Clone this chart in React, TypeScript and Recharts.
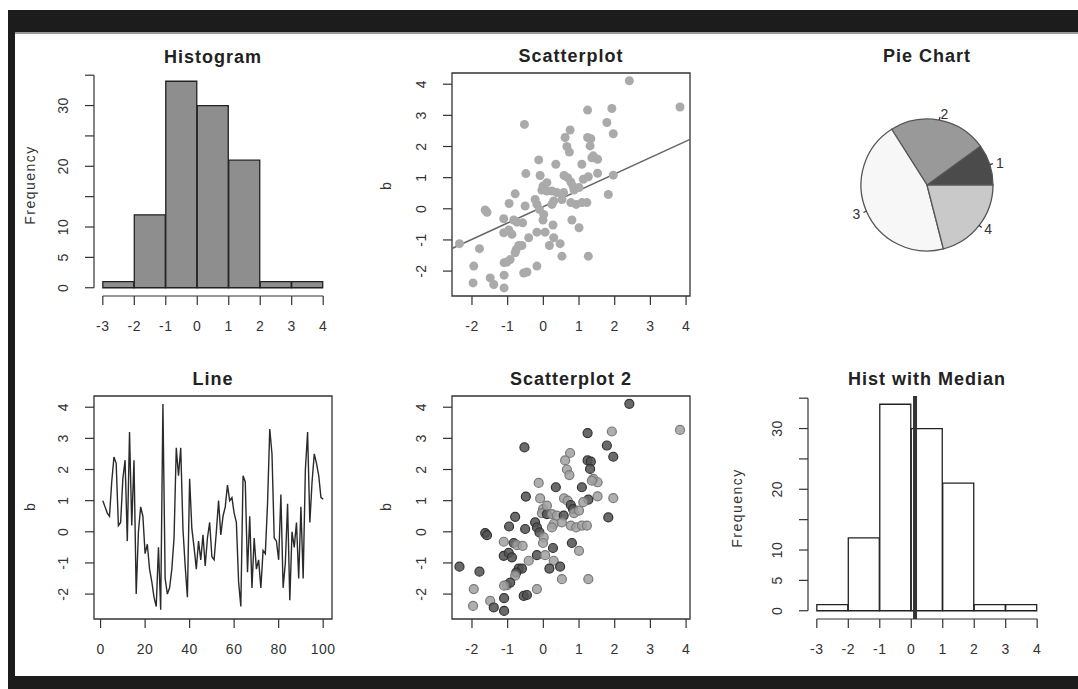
import React from "react";
import {
  ComposedChart,
  Bar,
  XAxis,
  YAxis,
  ReferenceLine,
  ReferenceArea,
  ScatterChart,
  Scatter,
  Cell,
  LineChart,
  Line,
  PieChart,
  Pie,
} from "recharts";

// ---- data ----
const histBreaks = [-3, -2, -1, 0, 1, 2, 3, 4];
const histCounts = [1, 12, 34, 30, 21, 1, 1];
const histYTicks = [0, 5, 10, 15, 20, 25, 30, 35];
const histYLabels = [0, 5, 10, 20, 30];
const medianA = 0.12;

const scatterX = [
  2.41, 3.83, 1.24, 1.92, -0.53, 1.78, 1.96, 0.75, 0.61, 0.66, 0.73, 1.24, 1.33, 1.31, 1.4, 1.52,
  1.36, -0.13, 0.35, 1.08, -0.49, -0.09, 0.58, 0.68, 1.52, 1.96, 1.26, 1.12, 0.77, 0.83, 0.86,
  -0.01, -0.04, 0.1, 0.24, 0.38, 0.57, -0.79, 1.82, -0.23, -0.18, -0.51, -0.96, -1.63, -1.58,
  0.29, 0.24, 0.77, 0.92, 1.08, 1.22, -0.11, 0.01, -0.01, 0.27, -1.11, -0.83, -0.74, -0.58, 0.8,
  1.0, -1.11, -0.97, -0.88, -0.18, 0.05, -0.41, 0.29, 0.47, 0.17, -0.69, -0.6, -0.76, -0.79,
  -1.02, -0.93, -1.1, 0.52, 1.26, -2.35, -1.79, -1.95, -0.55, -0.46, -0.18, -1.1, -1.49, -1.39,
  -1.97, -1.1, 0.52, 0.1, 1.0,
];
const scatterY = [
  4.11, 3.27, 3.17, 3.22, 2.71, 2.77, 2.41, 2.53, 2.29, 2.0, 1.82, 2.29, 2.25, 2.02, 1.7, 1.59,
  1.64, 1.57, 1.43, 1.43, 1.13, 1.07, 1.07, 1.0, 1.14, 1.08, 1.03, 0.95, 0.86, 0.73, 0.6, 0.73,
  0.6, 0.57, 0.57, 0.52, 0.52, 0.48, 0.46, 0.3, 0.14, 0.09, 0.17, -0.04, -0.11, 0.25, 0.14, 0.2,
  0.14, 0.2, 0.2, -0.02, -0.18, -0.36, -0.52, -0.32, -0.36, -0.43, -0.45, -0.36, -0.61, -0.77,
  -0.68, -0.82, -0.75, -0.75, -0.93, -0.93, -1.12, -1.18, -1.18, -1.18, -1.31, -1.41, -1.71,
  -1.63, -1.73, -1.52, -1.52, -1.12, -1.28, -1.84, -2.06, -2.03, -1.84, -2.13, -2.22, -2.43,
  -2.38, -2.54, 0.3, 0.84, 0.68,
];
// 1 = dark point, 0 = light point (Scatterplot 2)
const scatterGroup = [
  1, 0, 1, 0, 1, 1, 1, 0, 0, 0, 0, 1, 1, 1, 0, 0, 0, 0, 1, 1, 1, 0, 0, 0, 0, 0, 1, 0, 1, 1, 0, 0,
  0, 1, 0, 0, 1, 1, 1, 1, 1, 1, 1, 1, 1, 0, 0, 0, 0, 0, 0, 1, 0, 0, 1, 0, 1, 0, 0, 1, 0, 1, 1, 1,
  1, 0, 0, 0, 1, 1, 1, 1, 1, 0, 0, 1, 0, 0, 0, 1, 1, 0, 1, 1, 0, 1, 0, 1, 0, 1, 0, 0, 0,
];
const fitIntercept = 0.07;
const fitSlope = 0.525;

const lineB = [
  1.0, 0.8, 0.6, 0.5, 1.6, 2.4, 2.2, 0.2, 0.3, 1.7, 2.3, -0.3, 3.2, 0.2, 2.3, -2.0, 0.0, 0.8, 0.5,
  -0.7, -0.4, -1.2, -1.6, -2.1, -2.4, -0.5, -2.5, 4.1, -1.5, -2.0, -1.8, -1.2, -0.2, 2.7, 1.8, 2.7,
  0.1, -1.1, -2.1, 1.7, 0.1, -0.5, -1.2, -0.3, -0.9, -0.1, -1.1, -0.2, 0.3, -0.8, -0.9, 0.0, 1.0,
  -0.1, 0.5, 0.8, 1.5, 1.0, 1.1, 0.6, 0.3, -1.6, -2.4, 1.8, 1.6, -1.3, 0.5, -1.8, -0.2, -1.2, -0.9,
  -1.8, -0.6, -0.7, 0.9, 3.3, 2.5, -0.2, -0.3, -0.9, 1.2, -1.8, -1.0, 0.9, -2.2, 0.0, -0.5, 0.3,
  -1.5, 0.8, -1.5, 2.0, 3.2, 0.3, 1.6, 2.5, 2.2, 1.8, 1.1, 1.05,
];

const pieValues = [10, 24, 45, 21];
const pieLabels = ["1", "2", "3", "4"];
const pieColors = ["#4b4b4b", "#999999", "#f7f7f7", "#c9c9c9"];

const histTicksX = histBreaks;
const scatterTicks = [-2, -1, 0, 1, 2, 3, 4];
const lineTicksX = [0, 20, 40, 60, 80, 100];

// ---- layout ----
const FONT = '"Liberation Sans", Arial, Helvetica, sans-serif';
const INK = "#333";
const PW = 238;
const PH = 223;
const ML = 70;
const MT = 20;
const CW = ML + PW + 20;
const CH = MT + PH + 50;
const margin = { top: MT, right: 20, bottom: 10, left: 0 };

const histXDom: [number, number] = [-3.28, 4.28];
const histYDom: [number, number] = [-1.36, 35.36];
const sXDom: [number, number] = [-2.56, 4.11];
const sYDom: [number, number] = [-2.8, 4.36];
const lXDom: [number, number] = [-2.96, 103.96];

const histData = histCounts.map((c, i) => ({
  mid: (histBreaks[i] + histBreaks[i + 1]) / 2,
  count: c,
}));
const scatterData = scatterX.map((x, i) => ({ x, y: scatterY[i], g: scatterGroup[i] }));
const lineData = lineB.map((b, i) => ({ i: i + 1, b }));
const pieData = pieValues.map((v, i) => ({ name: pieLabels[i], value: v }));

const XTick = (p: any) => (
  <text x={p.x} y={p.y + 26} textAnchor="middle" fontSize={14} fontFamily={FONT} fill={INK} letterSpacing={0.5}>
    {p.payload.value}
  </text>
);

const YTick = (shown?: number[]) => (p: any) => {
  if (shown && !shown.includes(p.payload.value)) return <g />;
  return (
    <text
      transform={`translate(${p.x - 17},${p.y}) rotate(-90)`}
      textAnchor="middle"
      fontSize={14}
      fontFamily={FONT}
      fill={INK}
      letterSpacing={0.5}
    >
      {p.payload.value}
    </text>
  );
};

const axisCommon = {
  type: "number" as const,
  allowDataOverflow: true,
  axisLine: false,
  tickLine: { stroke: INK, strokeWidth: 1.2 },
  tickSize: 9,
  tickMargin: 0,
  interval: 0 as const,
};

function Panel({ left, top, children }: { left: number; top: number; children: React.ReactNode }) {
  return (
    <div style={{ position: "absolute", left: left - ML, top: top - MT, width: CW, height: CH }}>{children}</div>
  );
}

function Hist({ fill, median }: { fill: string; median?: number }) {
  return (
    <ComposedChart width={CW} height={CH} data={histData} margin={margin} barCategoryGap={0}>
      <XAxis {...axisCommon} dataKey="mid" domain={histXDom} ticks={histTicksX} height={40} tick={XTick} />
      <YAxis {...axisCommon} domain={histYDom} ticks={histYTicks} width={ML} tick={YTick(histYLabels)} />
      <Bar dataKey="count" fill={fill} stroke="#222" strokeWidth={1.3} isAnimationActive={false} />
      <ReferenceLine
        segment={[{ x: histBreaks[0], y: histYDom[0] }, { x: histBreaks[histBreaks.length - 1], y: histYDom[0] }]}
        stroke={INK}
        strokeWidth={1.2}
        ifOverflow="visible"
      />
      <ReferenceLine
        segment={[{ x: histXDom[0], y: histYTicks[0] }, { x: histXDom[0], y: histYTicks[histYTicks.length - 1] }]}
        stroke={INK}
        strokeWidth={1.2}
        ifOverflow="visible"
      />
      {median !== undefined && <ReferenceLine x={median} stroke="#333" strokeWidth={4} ifOverflow="visible" />}
    </ComposedChart>
  );
}

function Box() {
  return (
    <ReferenceArea
      x1={sXDom[0]}
      x2={sXDom[1]}
      y1={sYDom[0]}
      y2={sYDom[1]}
      fill="none"
      fillOpacity={0}
      stroke={INK}
      strokeWidth={1.3}
      ifOverflow="visible"
    />
  );
}

function ScatterPanel({ two }: { two?: boolean }) {
  return (
    <ScatterChart width={CW} height={CH} margin={margin}>
      <XAxis {...axisCommon} dataKey="x" domain={sXDom} ticks={scatterTicks} height={40} tick={XTick} />
      <YAxis {...axisCommon} dataKey="y" domain={sYDom} ticks={scatterTicks} width={ML} tick={YTick()} />
      <Box />
      <Scatter
        data={scatterData}
        isAnimationActive={false}
        shape={(p: any) => (
          <circle
            cx={p.cx}
            cy={p.cy}
            r={4.5}
            fill={p.fill}
            stroke={two ? (p.payload.g ? "#333" : "#7a7a7a") : "none"}
            strokeWidth={1.2}
            fillOpacity={two ? 0.85 : 1}
          />
        )}
      >
        {scatterData.map((d, i) => (
          <Cell key={i} fill={two ? (d.g ? "#505050" : "#a0a0a0") : "#aaaaaa"} />
        ))}
      </Scatter>
      {!two && (
        <ReferenceLine
          segment={[
            { x: sXDom[0], y: fitIntercept + fitSlope * sXDom[0] },
            { x: sXDom[1], y: fitIntercept + fitSlope * sXDom[1] },
          ]}
          stroke="#666"
          strokeWidth={1.5}
          ifOverflow="visible"
        />
      )}
    </ScatterChart>
  );
}

function LinePanel() {
  return (
    <LineChart width={CW} height={CH} data={lineData} margin={margin}>
      <XAxis {...axisCommon} dataKey="i" domain={lXDom} ticks={lineTicksX} height={40} tick={XTick} />
      <YAxis {...axisCommon} domain={sYDom} ticks={scatterTicks} width={ML} tick={YTick()} />
      <ReferenceArea
        x1={lXDom[0]}
        x2={lXDom[1]}
        y1={sYDom[0]}
        y2={sYDom[1]}
        fill="none"
        fillOpacity={0}
        stroke={INK}
        strokeWidth={1.3}
        ifOverflow="visible"
      />
      <Line dataKey="b" stroke="#2a2a2a" strokeWidth={1.4} dot={false} isAnimationActive={false} type="linear" />
    </LineChart>
  );
}

const renderPieLabel = (p: any) => {
  const rad = Math.PI / 180;
  const c = Math.cos(-p.midAngle * rad);
  const s = Math.sin(-p.midAngle * rad);
  const r = p.outerRadius;
  return (
    <g>
      <line x1={p.cx + r * c} y1={p.cy + r * s} x2={p.cx + r * 1.05 * c} y2={p.cy + r * 1.05 * s} stroke={INK} strokeWidth={1.2} />
      <text
        x={p.cx + r * 1.1 * c}
        y={p.cy + r * 1.1 * s + 5}
        textAnchor={c >= 0 ? "start" : "end"}
        fontSize={14}
        fontFamily={FONT}
        fill={INK}
      >
        {pieLabels[p.index]}
      </text>
    </g>
  );
};

const Title = ({ x, y, children }: { x: number; y: number; children: string }) => (
  <text x={x} y={y} textAnchor="middle" fontSize={18} fontWeight="bold" fontFamily={FONT} fill="#222" letterSpacing={1}>
    {children}
  </text>
);

const VLabel = ({ x, y, children, ls = 0 }: { x: number; y: number; children: string; ls?: number }) => (
  <text
    transform={`translate(${x},${y}) rotate(-90)`}
    textAnchor="middle"
    fontSize={14}
    fontFamily={FONT}
    fill={INK}
    letterSpacing={ls}
  >
    {children}
  </text>
);

export default function App() {
  return (
    <div style={{ position: "absolute", left: 0, top: 0, width: 1078, height: 689, background: "#fff", overflow: "hidden" }}>
      <style>{"html,body{margin:0;overflow:hidden;background:#fff}"}</style>
      {/* window frame */}
      <div style={{ position: "absolute", left: 8, top: 10, width: 1070, height: 22, background: "#1c1c1c" }} />
      <div style={{ position: "absolute", left: 8, top: 32, width: 1070, height: 2, background: "#9a9a9a" }} />
      <div style={{ position: "absolute", left: 8, top: 10, width: 7, height: 679, background: "#1c1c1c" }} />
      <div style={{ position: "absolute", left: 8, top: 676, width: 1070, height: 13, background: "#1c1c1c" }} />

      <Panel left={94} top={73}>
        <Hist fill="#8e8e8e" />
      </Panel>
      <Panel left={452} top={73}>
        <ScatterPanel />
      </Panel>
      <div style={{ position: "absolute", left: 777, top: 35, width: 300, height: 300 }}>
        <PieChart width={300} height={300} margin={{ top: 0, right: 0, bottom: 0, left: 0 }}>
          <Pie
            data={pieData}
            dataKey="value"
            cx={150}
            cy={150}
            outerRadius={66}
            startAngle={0}
            endAngle={360}
            stroke="#555"
            strokeWidth={1.3}
            label={renderPieLabel}
            labelLine={false}
            isAnimationActive={false}
          >
            {pieData.map((d, i) => (
              <Cell key={d.name} fill={pieColors[i]} />
            ))}
          </Pie>
        </PieChart>
      </div>
      <Panel left={94} top={396}>
        <LinePanel />
      </Panel>
      <Panel left={452} top={396}>
        <ScatterPanel two />
      </Panel>
      <Panel left={808} top={396}>
        <Hist fill="#ffffff" median={medianA} />
      </Panel>

      <svg width={1078} height={689} style={{ position: "absolute", left: 0, top: 0, pointerEvents: "none" }}>
        <Title x={213} y={63}>Histogram</Title>
        <Title x={571} y={62}>Scatterplot</Title>
        <Title x={927} y={62}>Pie Chart</Title>
        <Title x={213} y={385}>Line</Title>
        <Title x={571} y={385}>Scatterplot 2</Title>
        <Title x={927} y={385}>Hist with Median</Title>
        <VLabel x={35} y={185} ls={1.5}>Frequency</VLabel>
        <VLabel x={742} y={508} ls={1.5}>Frequency</VLabel>
        <VLabel x={391} y={186}>b</VLabel>
        <VLabel x={35} y={507}>b</VLabel>
        <VLabel x={391} y={507}>b</VLabel>
      </svg>
    </div>
  );
}
